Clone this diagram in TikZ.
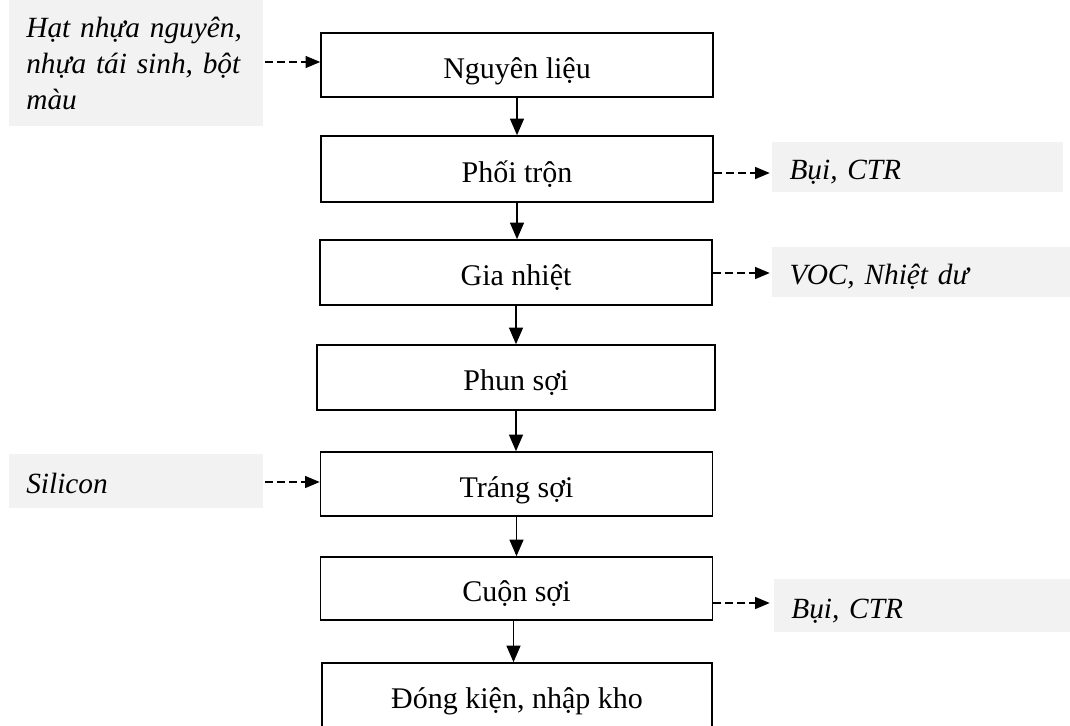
\documentclass[tikz,border=0pt]{standalone}
\usepackage{fontspec}
\setmainfont{Liberation Serif}
\usetikzlibrary{arrows.meta,calc}
\definecolor{lightgrey}{HTML}{F2F2F2}
\tikzset{
  stepbox/.style={draw=black, line width=1.2pt, fill=white, inner sep=0pt,
    minimum width=294pt, minimum height=48pt, text height=24pt, text depth=4.5pt,
    font=\fontsize{22.5}{27}\selectfont},
  sidebox/.style={fill=lightgrey, draw=none, inner xsep=13pt, inner ysep=0pt,
    align=left, anchor=center,
    font=\fontsize{22}{27}\selectfont\itshape},
  oneline/.style={text height=23.5pt, text depth=4.5pt},
  flow/.style={line width=1.2pt, -{Triangle[length=12.5pt,width=10.5pt]}},
  dasharrow/.style={line width=1pt, dash pattern=on 6pt off 3pt,
    -{Triangle[length=11pt,width=9pt]}}
}
\begin{document}
\begin{tikzpicture}[x=0.75pt,y=-0.75pt]
\useasboundingbox (0,0) rectangle (1070,725);
\clip (0,0) rectangle (1070,725);
% process boxes
\node[stepbox] (n1) at (517,65) {Nguyên liệu};
\node[stepbox, minimum height=49.5pt] (n2) at (517,169) {Phối trộn};
\node[stepbox, minimum height=48.75pt] (n3) at (516,272.5) {Gia nhiệt};
\node[stepbox, minimum width=298.5pt, minimum height=48.75pt] (n4) at (516,377.5) {Phun sợi};
\node[stepbox] (n5) at (516.5,484) {Tráng sợi};
\node[stepbox, minimum height=47.25pt] (n6) at (516.5,588.5) {Cuộn sợi};
\node[stepbox, minimum width=292.5pt, minimum height=48.75pt] (n7) at (517,695.5) {Đóng kiện, nhập kho};
% side boxes
\node[sidebox, minimum width=190.5pt, minimum height=95pt, text width=164.5pt] (in1) at (136,63)
  {\mbox{Hạt nhựa nguyên,}\\ \mbox{nhựa tái sinh, bột}\\ \mbox{màu}};
\node[sidebox, oneline, minimum width=190.5pt, minimum height=40.5pt, text width=164.5pt] (in2) at (136,481) {Silicon};
\node[sidebox, oneline, minimum width=218.25pt, minimum height=37.5pt, text width=192pt] (out1) at (917.5,167) {Bụi, CTR};
\node[sidebox, oneline, minimum width=223.5pt, minimum height=37.5pt, text width=197pt] (out2) at (921,272) {VOC, Nhiệt dư};
\node[sidebox, oneline, minimum width=222pt, minimum height=39.75pt, text width=196pt] (out3) at (922,605.5) {Bụi, CTR};
% main flow
\draw[flow] (n1.south) -- (n1.south |- n2.north);
\draw[flow] (n2.south) -- (n2.south |- n3.north);
\draw[flow] (n3.south) -- (n3.south |- n4.north);
\draw[flow] (n4.south) -- (n4.south |- n5.north);
\draw[flow] (n5.south) -- (n5.south |- n6.north);
\draw[flow] ($(n6.south)+(-3,0)$) -- ($(n6.south |- n7.north)+(-3,0)$);
% inputs
\coordinate (a1) at ($(in1.east)+(2,-1)$);
\draw[dasharrow] (a1) -- (a1 -| n1.west);
\coordinate (a2) at ($(in2.east)+(2,1)$);
\draw[dasharrow] (a2) -- (a2 -| n5.west);
% outputs
\coordinate (b1) at ($(n2.east)+(0,4)$);
\draw[dasharrow] (b1) -- ($(b1 -| out1.west)+(-2,0)$);
\coordinate (b2) at ($(n3.east)+(0,0.5)$);
\draw[dasharrow] (b2) -- ($(b2 -| out2.west)+(-2,0)$);
\coordinate (b3) at ($(n6.east)+(0,14.5)$);
\draw[dasharrow] (b3) -- ($(b3 -| out3.west)+(-4,0)$);
\end{tikzpicture}
\end{document}
